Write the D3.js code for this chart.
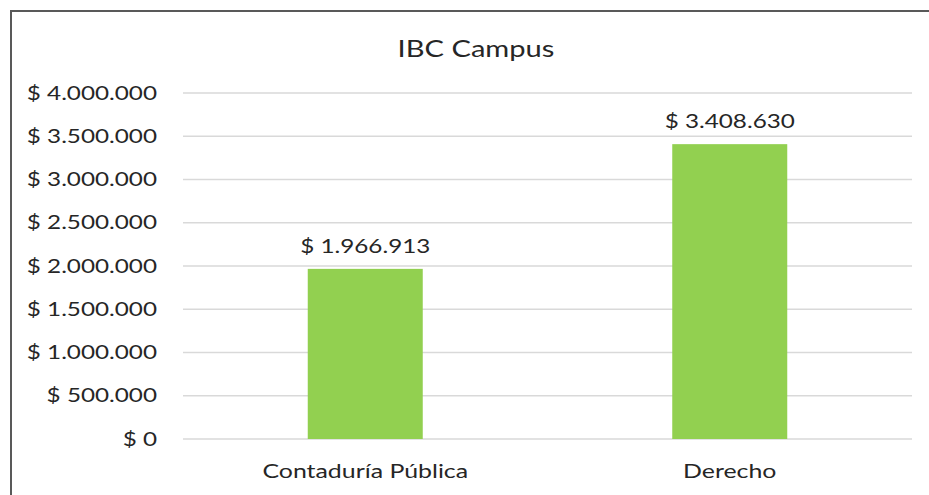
<!DOCTYPE html>
<html><head><meta charset="utf-8">
<script src="https://cdn.jsdelivr.net/npm/d3@7"></script>
<style>body{margin:0;background:#fff;} text{font-family:Lato, "Open Sans", sans-serif;fill:#262626;}</style>
</head><body>
<svg id="c" width="929" height="495"></svg>
<script>
const categories = ["Contaduría Pública", "Derecho"];
const values = [1966913, 3408630];
const yTicks = [0, 500000, 1000000, 1500000, 2000000, 2500000, 3000000, 3500000, 4000000];
const title = "IBC Campus";

const svg = d3.select("#c");
const W = 929, H = 495;
const m = {left: 183, right: 17, top: 93, bottom: 56};
const SX = 1.244; // horizontal stretch of text in the reference
const fmt = v => "$ " + d3.format(",")(v).replace(/,/g, ".");

svg.append("rect").attr("x", 0).attr("y", 0).attr("width", W).attr("height", H).attr("fill", "#fff");
svg.append("path").attr("d", `M11,${H} L11,11 L${W},11`).attr("fill", "none").attr("stroke", "#595959").attr("stroke-width", 2);

const x = d3.scaleBand().domain(categories).range([m.left, W - m.right]).paddingInner(0.6845).paddingOuter(0.34225);
const y = d3.scaleLinear().domain([0, 4000000]).range([H - m.bottom, m.top]);

svg.append("g").selectAll("line").data(yTicks).join("line")
  .attr("x1", m.left).attr("x2", W - m.right)
  .attr("y1", d => y(d)).attr("y2", d => y(d))
  .attr("stroke", "#d9d9d9").attr("stroke-width", 1.5);

const yAxis = d3.axisLeft(y).tickValues(yTicks).tickFormat(fmt).tickSize(0).tickPadding(0);
const gy = svg.append("g").attr("transform", "translate(157,0)").call(yAxis);
gy.select(".domain").remove();
gy.selectAll("text").attr("font-size", 19.5).attr("fill", "#262626").attr("font-family", "Lato, sans-serif")
  .attr("x", 0).attr("transform", `scale(${SX},1)`);

svg.append("g").selectAll("rect").data(values).join("rect")
  .attr("x", (d, i) => x(categories[i])).attr("width", x.bandwidth())
  .attr("y", d => y(d)).attr("height", d => y(0) - y(d))
  .attr("fill", "#92d050");

svg.append("g").selectAll("text").data(values).join("text")
  .attr("transform", (d, i) => `translate(${x(categories[i]) + x.bandwidth() / 2},${y(d) - 16}) scale(${SX},1)`)
  .attr("text-anchor", "middle").attr("font-size", 19.5).text(fmt);

const xAxis = d3.axisBottom(x).tickSize(0).tickPadding(0);
const gx = svg.append("g").attr("transform", `translate(0,${H - m.bottom + 25})`).call(xAxis);
gx.select(".domain").remove();
gx.selectAll("text").attr("font-size", 20).attr("fill", "#262626").attr("font-family", "Lato, sans-serif")
  .attr("transform", `scale(${SX},1)`);

svg.append("text").attr("transform", `translate(476,57) scale(${SX},1)`).attr("text-anchor", "middle").attr("font-size", 23.4).text(title);
</script>
</body></html>
